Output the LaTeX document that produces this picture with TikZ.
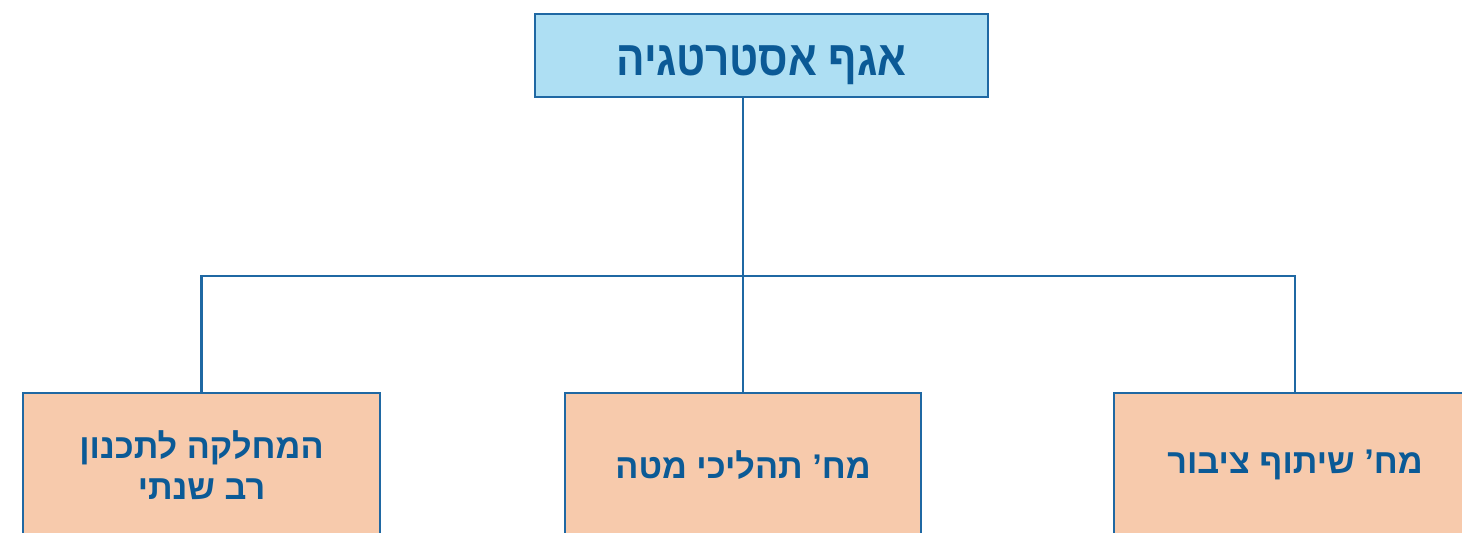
\documentclass[tikz,border=0pt]{standalone}
\usepackage{fontspec}
\TeXXeTstate=1
\newfontfamily\hebfont[Script=Hebrew]{Liberation Sans}
\definecolor{lineblue}{HTML}{1F68A3}
\definecolor{textblue}{HTML}{0B5A96}
\definecolor{topfill}{HTML}{AEDFF3}
\definecolor{boxfill}{HTML}{F7CAAC}
\tikzset{
  topbox/.style={draw=lineblue, line width=1.3pt, fill=topfill, minimum width=9.06cm, minimum height=1.66cm, inner sep=0pt,
    text height=0.8cm, text depth=0cm,
    font=\hebfont\bfseries\fontsize{28}{32}\selectfont, text=textblue},
  unitbox/.style={draw=lineblue, line width=1.3pt, fill=boxfill, minimum height=2.88cm, inner sep=0pt, align=center,
    font=\hebfont\bfseries\fontsize{19.5}{23}\selectfont, text=textblue},
  conn/.style={draw=lineblue, line width=1.2pt}
}
\begin{document}
\begin{tikzpicture}[x=0.02cm, y=-0.02cm]
\useasboundingbox (0,0) rectangle (1462,532);
\clip (0,0) rectangle (1462,532);
\fill[white] (0,0) rectangle (1462,532);
\node[topbox] (top) at (761.5,55.5) {\scalebox{0.86}[1]{\beginR אגף אסטרטגיה\endR}};
\node[unitbox, minimum width=7.14cm] (left) at (201.5,465) {\beginR המחלקה לתכנון\endR\\\beginR רב שנתי\endR};
\node[unitbox, minimum width=7.12cm] (mid) at (743,465) {\beginR מח’ תהליכי מטה\endR};
\node[unitbox, minimum width=7.24cm] (right) at (1295,465) {\beginR מח’ שיתוף ציבור\endR};
\coordinate (bus) at (743,276);
\draw[conn] (top.south -| mid.north) -- (mid.north);
\draw[conn] (left.north) |- (bus) -| (right.north);
\end{tikzpicture}
\end{document}
